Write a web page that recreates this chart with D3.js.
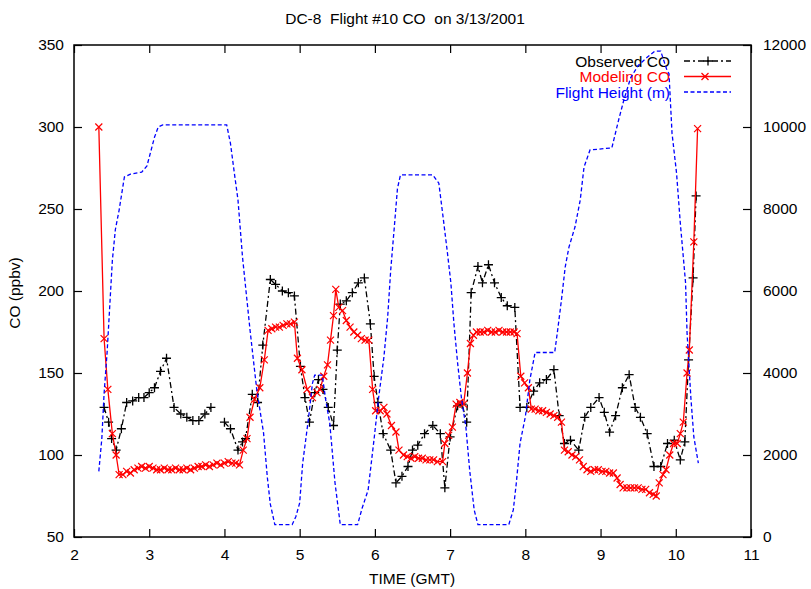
<!DOCTYPE html>
<html>
<head>
<meta charset="utf-8">
<script src="https://cdn.jsdelivr.net/npm/d3@7"></script>
<style>
  body { margin: 0; background: #fff; }
  text { font-family: "Liberation Sans", Arial, Helvetica, sans-serif; white-space: pre; }
</style>
</head>
<body>
<svg id="chart" width="811" height="589"></svg>
<script>
// ---- data ----
const chartTitle = "DC-8  Flight #10 CO  on 3/13/2001";
const xTicks = [2, 3, 4, 5, 6, 7, 8, 9, 10, 11];
const coTicks = [50, 100, 150, 200, 250, 300, 350];
const heightTicks = [0, 2000, 4000, 6000, 8000, 10000, 12000];
const seriesNames = ["Observed CO", "Modeling CO", "Flight Height (m)"];

// Observed CO (ppbv); null marks a break in the record
const obsTime = [2.40,2.46,2.50,2.56,2.63,2.70,2.78,2.86,2.93,3.00,3.07,3.15,3.23,3.33,3.42,3.50,3.58,3.66,3.74,3.82,3.90,
  4.00,4.08,4.18,4.24,4.28,4.37,4.44,4.51,4.61,4.68,4.77,4.85,4.93,5.01,5.07,5.13,5.20,5.25,5.31,5.38,5.45,5.50,5.54,
  5.62,5.70,5.78,5.86,5.94,5.99,6.04,6.11,6.21,6.28,6.36,6.44,6.50,6.57,6.66,6.77,6.87,6.93,7.00,7.10,7.16,7.22,7.28,
  7.37,7.43,7.51,7.59,7.68,7.76,7.86,7.93,8.02,8.11,8.19,8.28,8.38,8.45,8.52,8.60,8.71,8.79,8.87,8.98,9.05,9.12,9.20,
  9.29,9.38,9.46,9.53,9.62,9.71,9.80,9.89,9.98,10.06,10.12,10.17,10.23,10.27];
const obsCO = [129,120,110,103,116,132,133,135,135,138,141,151,159,129,125,123,121,121,125,129,null,
  120,116,103,108,110,137,132,167,207,204,200,199,197,154,135,120,138,146,140,129,118,164,192,
  194,199,205,208,180,148,132,113,103,83,87,93,103,106,113,118,113,80,111,130,131,120,199,
  215,205,216,205,196,191,190,129,129,139,144,146,152,124,107,109,103,123,129,135,126,114,124,
  141,149,129,123,113,93,93,107,109,97,108,158,208,258];

// Modeling CO (ppbv)
const modTime = [2.33,2.40,2.45,2.51,2.56,2.60,2.65,2.70,2.75,2.80,2.85,2.90,2.95,3.00,3.05,3.10,3.15,3.20,3.25,3.30,
  3.35,3.40,3.45,3.50,3.55,3.60,3.65,3.70,3.75,3.80,3.85,3.90,3.95,4.00,4.05,4.10,4.15,4.20,4.25,4.30,4.34,4.40,4.47,
  4.53,4.58,4.63,4.68,4.73,4.78,4.83,4.88,4.93,4.97,5.03,5.10,5.17,5.23,5.27,5.32,5.37,5.41,5.45,5.48,5.52,5.57,5.62,
  5.67,5.72,5.77,5.82,5.87,5.92,5.97,6.01,6.07,6.12,6.16,6.22,6.28,6.32,6.38,6.43,6.48,6.53,6.58,6.63,6.68,6.73,6.78,
  6.83,6.90,6.93,6.98,7.03,7.08,7.13,7.18,7.23,7.27,7.31,7.35,7.40,7.45,7.50,7.55,7.60,7.65,7.70,7.75,7.80,7.85,7.89,
  7.94,7.99,8.04,8.08,8.13,8.18,8.23,8.28,8.33,8.38,8.43,8.48,8.52,8.57,8.62,8.67,8.72,8.77,8.82,8.87,8.92,8.97,9.02,
  9.07,9.12,9.17,9.22,9.26,9.30,9.35,9.40,9.45,9.50,9.55,9.60,9.65,9.70,9.74,9.78,9.83,9.87,9.92,9.97,10.02,10.06,
  10.10,10.15,10.18,10.24,10.29];
const modCO = [300,171,140,113,100,88,88,90,89,91,92,93,92,93,92,91,91,92,91,91,
  92,91,91,92,91,92,93,93,94,93,94,95,94,95,96,95,95,94,103,110,123,134,141,
  158,176,177,178,178,179,180,180,181,159,152,140,135,138,140,148,155,170,185,201,190,188,182,
  178,175,173,171,170,170,140,127,127,129,125,118,114,103,100,99,98,99,98,98,97,97,97,
  96,96,107,112,117,131,132,131,150,168,173,175,175,175,176,175,175,176,175,175,175,175,174,
  148,144,141,128,128,127,127,126,125,124,123,120,103,102,100,99,97,93,91,90,91,91,90,
  90,89,89,86,82,80,80,80,80,80,79,79,77,76,75,83,88,91,100,107,107,113,
  120,150,164,230,299];

// Flight height (m)
const altTime = [2.33,2.37,2.40,2.44,2.47,2.51,2.55,2.60,2.67,2.75,2.90,2.97,3.02,3.07,3.12,3.18,4.03,4.08,4.13,4.18,
  4.24,4.34,4.43,4.52,4.57,4.61,4.67,4.90,4.95,5.00,5.04,5.12,5.17,5.20,5.30,5.35,5.40,5.47,5.54,5.77,5.83,5.91,5.99,
  6.05,6.12,6.17,6.21,6.26,6.30,6.34,6.77,6.85,6.90,6.96,7.01,7.05,7.10,7.15,7.21,7.26,7.32,7.37,7.78,7.84,7.88,7.93,
  8.00,8.06,8.13,8.39,8.43,8.48,8.53,8.58,8.66,8.73,8.78,8.86,9.15,9.24,9.31,9.40,9.50,9.62,9.72,9.80,9.88,9.91,9.95,
  10.01,10.06,10.10,10.13,10.15,10.20,10.24,10.30];
const altHeight = [1600,2400,3500,4500,5460,6750,7500,7975,8780,8850,8900,9050,9400,9750,10000,10050,10050,9600,8900,8220,
  6830,5050,3585,2536,1460,800,300,300,500,830,1800,2930,3750,3950,3950,3300,2780,1317,300,300,700,1146,2400,
  3400,4390,5366,6500,7600,8500,8830,8830,8630,7900,7000,6200,5220,4240,3400,2680,1630,660,300,300,660,1317,2290,
  2930,3830,4500,4500,5050,5780,6585,7070,7560,8220,9020,9440,9490,10170,10660,11200,11500,11700,11850,11850,11400,11300,9850,
  8880,7660,6830,6200,4975,3415,2440,1800];

// ---- layout ----
const svg = d3.select("#chart");
const W = 811, H = 589;
const plot = { left: 74, right: 751, top: 45, bottom: 537 };
const FS = 15.5;

const x = d3.scaleLinear().domain([2, 11]).range([plot.left, plot.right]);
const yCO = d3.scaleLinear().domain([50, 350]).range([plot.bottom, plot.top]);
const yAlt = d3.scaleLinear().domain([0, 12000]).range([plot.bottom, plot.top]);

svg.append("rect").attr("width", W).attr("height", H).attr("fill", "#fff");

// title
svg.append("text").attr("x", 405).attr("y", 24).attr("text-anchor", "middle")
  .attr("font-size", FS).attr("xml:space", "preserve").text(chartTitle);

// axes (ticks point inward)
function styleAxis(g) {
  g.select(".domain").remove();
  g.selectAll(".tick line").attr("stroke", "#000").attr("stroke-width", 1.2);
  g.selectAll(".tick text").attr("font-size", FS).attr("fill", "#000")
    .attr("font-family", '"Liberation Sans", Arial, sans-serif');
}
svg.append("g").attr("transform", `translate(0,${plot.bottom})`)
  .call(d3.axisBottom(x).tickValues(xTicks).tickSize(-8).tickPadding(12).tickFormat(d3.format("d")))
  .call(styleAxis);
svg.append("g").attr("transform", `translate(0,${plot.top})`)
  .call(d3.axisTop(x).tickValues(xTicks).tickSize(-8).tickFormat(""))
  .call(styleAxis);
svg.append("g").attr("transform", `translate(${plot.left},0)`)
  .call(d3.axisLeft(yCO).tickValues(coTicks).tickSize(-8).tickPadding(10).tickFormat(d3.format("d")))
  .call(styleAxis);
svg.append("g").attr("transform", `translate(${plot.right},0)`)
  .call(d3.axisRight(yAlt).tickValues(heightTicks).tickSize(-8).tickPadding(12).tickFormat(d3.format("d")))
  .call(styleAxis);

// frame
svg.append("rect").attr("x", plot.left).attr("y", plot.top)
  .attr("width", plot.right - plot.left).attr("height", plot.bottom - plot.top)
  .attr("fill", "none").attr("stroke", "#000").attr("stroke-width", 1.5);

// axis titles
svg.append("text").attr("transform", `translate(20,293) rotate(-90)`).attr("text-anchor", "middle")
  .attr("font-size", FS).text("CO (ppbv)");
svg.append("text").attr("x", 412).attr("y", 584).attr("text-anchor", "middle")
  .attr("font-size", FS).text("TIME (GMT)");

// legend
const legendColors = ["#000", "#ff0000", "#0000ff"];
const legendDash = ["6,3,2,3", null, "4,2.5"];
const legendY = [61, 76.5, 92];
seriesNames.forEach((name, i) => {
  svg.append("text").attr("x", 670).attr("y", legendY[i]).attr("dy", "0.36em")
    .attr("text-anchor", "end").attr("font-size", FS).attr("fill", legendColors[i]).text(name);
  svg.append("line").attr("x1", 684).attr("x2", 731).attr("y1", legendY[i]).attr("y2", legendY[i])
    .attr("stroke", legendColors[i]).attr("stroke-width", 1.3)
    .attr("stroke-dasharray", legendDash[i]);
});

const plusPath = s => `M${-s},0H${s}M0,${-s}V${s}`;
const crossPath = s => `M${-s},${-s}L${s},${s}M${-s},${s}L${s},${-s}`;

svg.append("path").attr("d", plusPath(4.5))
  .attr("transform", `translate(708,${legendY[0]})`).attr("stroke", "#000").attr("stroke-width", 1.3);
svg.append("path").attr("d", crossPath(3.5))
  .attr("transform", `translate(705,${legendY[1]})`).attr("stroke", "#ff0000").attr("stroke-width", 1.3);

// series
const clip = svg.append("clipPath").attr("id", "plotClip").append("rect")
  .attr("x", plot.left).attr("y", plot.top).attr("width", plot.right - plot.left).attr("height", plot.bottom - plot.top);
const layer = svg.append("g").attr("clip-path", "url(#plotClip)");

const obsData = obsTime.map((t, i) => ({ t, v: obsCO[i] }));
const modData = modTime.map((t, i) => ({ t, v: modCO[i] }));
const altData = altTime.map((t, i) => ({ t, v: altHeight[i] }));

const coLine = d3.line().defined(d => d.v != null).x(d => x(d.t)).y(d => yCO(d.v));
const altLine = d3.line().x(d => x(d.t)).y(d => yAlt(d.v));

// observed CO
layer.append("path").datum(obsData).attr("d", coLine)
  .attr("fill", "none").attr("stroke", "#000").attr("stroke-width", 1.3).attr("stroke-dasharray", "6,3,2,3");
layer.append("g").selectAll("path").data(obsData.filter(d => d.v != null)).join("path")
  .attr("d", plusPath(4.5)).attr("transform", d => `translate(${x(d.t)},${yCO(d.v)})`)
  .attr("stroke", "#000").attr("stroke-width", 1.3);

// modeling CO
layer.append("path").datum(modData).attr("d", coLine)
  .attr("fill", "none").attr("stroke", "#ff0000").attr("stroke-width", 1.3);
layer.append("g").selectAll("path").data(modData).join("path")
  .attr("d", crossPath(3.5)).attr("transform", d => `translate(${x(d.t)},${yCO(d.v)})`)
  .attr("stroke", "#ff0000").attr("stroke-width", 1.2);

// flight height
layer.append("path").datum(altData).attr("d", altLine)
  .attr("fill", "none").attr("stroke", "#0000ff").attr("stroke-width", 1.3).attr("stroke-dasharray", "4,2.5");
</script>
</body>
</html>
